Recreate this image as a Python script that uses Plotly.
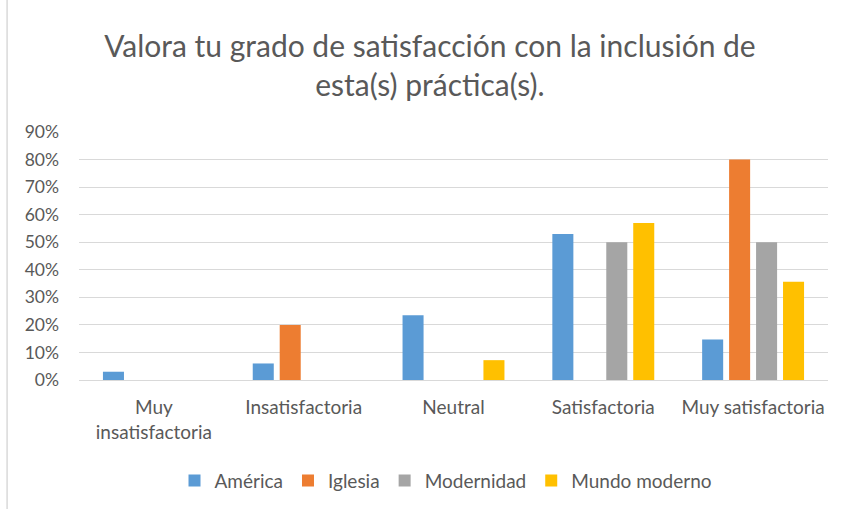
import plotly.graph_objects as go

# categories and series
categorias = ["Muy<br>insatisfactoria", "Insatisfactoria", "Neutral", "Satisfactoria", "Muy satisfactoria"]
america = [0.03, 0.06, 0.235, 0.53, 0.147]
iglesia = [0, 0.20, 0, 0, 0.80]
modernidad = [0, 0, 0, 0.50, 0.50]
mundo_moderno = [0, 0, 0.072, 0.57, 0.357]
y_ticks = [0, 0.1, 0.2, 0.3, 0.4, 0.5, 0.6, 0.7, 0.8, 0.9]

series = [
    ("América", america, "#5B9BD5"),
    ("Iglesia", iglesia, "#ED7D31"),
    ("Modernidad", modernidad, "#A5A5A5"),
    ("Mundo moderno", mundo_moderno, "#FFC000"),
]

fig = go.Figure()
for name, vals, color in series:
    fig.add_trace(go.Bar(x=categorias, y=vals, name=name, marker_color=color,
                         marker_line_width=0))

font = "Lato, 'Open Sans', sans-serif"
fig.update_layout(
    width=843, height=510, autosize=False,
    paper_bgcolor="white", plot_bgcolor="white",
    font=dict(family=font, color="#595959", size=17),
    title=dict(text="Valora tu grado de satisfacción con la inclusión de<br>esta(s) práctica(s).",
               x=0.51, xanchor="center", y=0.888, yanchor="middle",
               font=dict(size=30, color="#595959")),
    margin=dict(l=79, r=15, t=132, b=129),
    barmode="group", bargap=0.28, bargroupgap=0.22,
    showlegend=True,
    legend=dict(orientation="h", x=0.49, xanchor="center", y=-0.40, yanchor="middle",
                font=dict(size=19, color="#595959"), itemwidth=30,
                traceorder="normal"),
    shapes=[dict(type="line", xref="paper", yref="paper", x0=-0.096, x1=-0.096,
                 y0=-0.52, y1=1.55, line=dict(color="#D9D9D9", width=1.5))],
)
fig.update_yaxes(range=[0, 0.9], tickvals=y_ticks, tickformat=".0%",
                 showgrid=True, gridcolor="#D9D9D9", gridwidth=1,
                 zeroline=False, ticks="", ticklabelstandoff=19,
                 tickfont=dict(size=17.5, color="#595959"))
fig.update_xaxes(showline=True, linecolor="#D9D9D9", linewidth=1, ticks="",
                 ticklabelstandoff=10,
                 tickfont=dict(size=19, color="#595959"))

# drop the default page margin so the figure sits at the window corner
fig.write_html("out.html", config={"displayModeBar": False},
               post_script="document.body.style.margin='0';")
